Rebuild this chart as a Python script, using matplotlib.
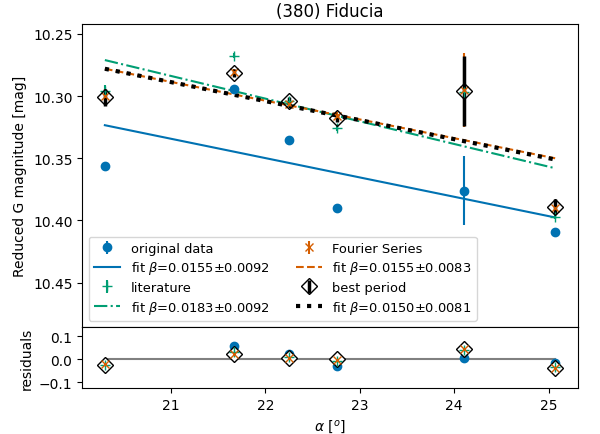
import numpy as np
import matplotlib.pyplot as plt

# phase angle of each observation
alpha = [20.30, 21.67, 22.25, 22.76, 24.10, 25.07]

# reduced magnitudes
orig_mag = [10.3565, 10.2944, 10.3355, 10.390, 10.376, 10.4097]
orig_err = [0.002, 0.002, 0.002, 0.002, 0.028, 0.002]
lit_mag = [10.296, 10.2677, 10.304, 10.326, 10.297, 10.397]
lit_err = [0.005, 0.002, 0.002, 0.002, 0.027, 0.002]
four_mag = [10.300, 10.281, 10.306, 10.316, 10.295, 10.390]
four_err = [0.006, 0.003, 0.003, 0.003, 0.030, 0.006]
best_mag = [10.301, 10.2815, 10.304, 10.318, 10.296, 10.389]
best_err = [0.007, 0.003, 0.003, 0.003, 0.028, 0.006]

# fitted lines, evaluated at the ends of the alpha range
fit_x = [20.30, 25.07]
fit_orig = [10.3234, 10.3976]
fit_lit = [10.271, 10.358]
fit_four = [10.278, 10.350]
fit_best = [10.278, 10.351]
labels_fit = ["fit $\\beta$=0.0155$\\pm$0.0092", "fit $\\beta$=0.0183$\\pm$0.0092",
              "fit $\\beta$=0.0155$\\pm$0.0083", "fit $\\beta$=0.0150$\\pm$0.0081"]

# residuals
res_orig = [-0.030, 0.055, 0.020, -0.030, 0.005, -0.015]
res_lit = [-0.026, 0.030, 0.010, -0.010, 0.040, -0.035]
res_four = [-0.022, 0.020, 0.005, -0.003, 0.043, -0.038]
res_best = [-0.024, 0.020, 0.004, 0.000, 0.045, -0.040]

c_blue = '#0072B2'
c_green = '#009E73'
c_orange = '#D55E00'

fig, (ax, axr) = plt.subplots(2, 1, figsize=(6, 4.35), sharex=True,
                              gridspec_kw={'height_ratios': [5, 1], 'hspace': 0})
fig.subplots_adjust(left=0.137, right=0.963, top=0.9425, bottom=0.1057)

h = []
h.append(ax.errorbar(alpha, orig_mag, yerr=orig_err, fmt='o', color=c_blue, ms=6, label='original data'))
h.append(ax.plot(fit_x, fit_orig, '-', color=c_blue, label=labels_fit[0])[0])
h.append(ax.errorbar(alpha, lit_mag, yerr=lit_err, fmt='+', color=c_green, ms=7, label='literature'))
h.append(ax.plot(fit_x, fit_lit, '-.', color=c_green, label=labels_fit[1])[0])
h.append(ax.errorbar(alpha, four_mag, yerr=four_err, fmt='x', color=c_orange, ms=6, label='Fourier Series'))
h.append(ax.plot(fit_x, fit_four, '--', color=c_orange, label=labels_fit[2])[0])
h.append(ax.errorbar(alpha, best_mag, yerr=best_err, fmt='D', color='k', mfc='none', ms=8,
                     elinewidth=2.5, label='best period'))
h.append(ax.plot(fit_x, fit_best, ':', color='k', lw=3, label=labels_fit[3])[0])

ax.set_ylim(10.486, 10.242)
ax.set_yticks([10.25, 10.30, 10.35, 10.40, 10.45])
ax.set_ylabel('Reduced G magnitude [mag]')
ax.set_title('(380) Fiducia')
ax.legend(handles=h, labels=[x.get_label() for x in h], loc='lower left', ncol=2,
          fontsize=9.4, labelspacing=0.35)

axr.plot([alpha[0], alpha[-1]], [0, 0], color='gray', lw=1.5)
axr.plot(alpha, res_orig, 'o', color=c_blue, ms=6)
axr.plot(alpha, res_best, 'D', color='k', mfc='white', ms=8)
axr.plot(alpha, res_lit, '+', color=c_green, ms=7)
axr.plot(alpha, res_four, 'x', color=c_orange, ms=6)
axr.set_ylim(-0.126, 0.138)
axr.set_yticks([-0.1, 0.0, 0.1])
axr.set_ylabel('residuals')
axr.set_xlabel('$\\alpha$ [$^o$]')
axr.set_xlim(20.06, 25.31)

plt.savefig('out.png', dpi=100)
